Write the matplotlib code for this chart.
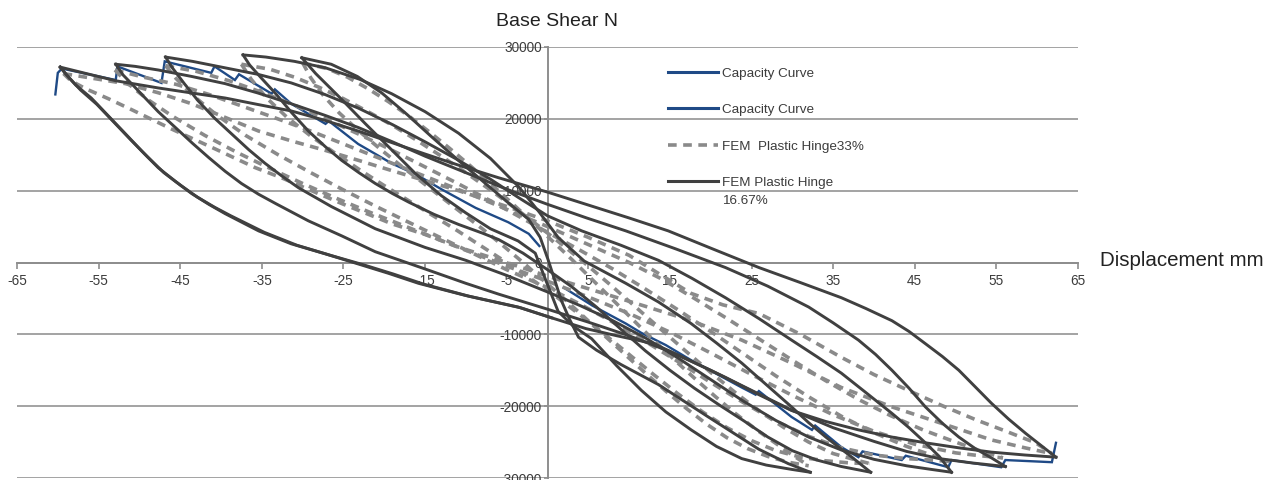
import matplotlib
matplotlib.use("Agg")
import matplotlib.pyplot as plt
from matplotlib.lines import Line2D

# ---------------------------------------------------------------
# Cyclic base shear (N) vs. displacement (mm)
# ---------------------------------------------------------------

x_ticks = [-65, -55, -45, -35, -25, -15, -5, 5, 15, 25, 35, 45, 55, 65]
y_ticks = [-30000, -20000, -10000, 0, 10000, 20000, 30000]

# Capacity curve, negative-displacement side
capacity_neg = [(-60.3, 23400), (-60.0, 26400), (-59.5, 27000), (-52.9, 25400), (-52.7, 27300),
                (-47.3, 25000), (-46.9, 28000), (-41.2, 26400), (-40.8, 27300), (-38.3, 25400),
                (-37.8, 26200), (-33.8, 23500), (-33.4, 24100), (-31.4, 22100), (-27.2, 19300),
                (-26.8, 19700), (-23.2, 16500), (-19.1, 13800), (-16.0, 12200), (-13.0, 10200),
                (-8.8, 7600), (-4.8, 5600), (-2.3, 4000), (-1.0, 2300)]

# Capacity curve, positive-displacement side
capacity_pos = [(2.0, -3500), (5.5, -6000), (9.6, -8500), (11.5, -9800), (14.5, -11500),
                (17.6, -13600), (20.7, -15500), (23.8, -17400), (25.5, -18400), (25.9, -17900),
                (29.9, -21500), (32.4, -23300), (32.8, -22700), (36.0, -25700), (38.1, -27100),
                (38.6, -26300), (43.4, -27500), (43.9, -26900), (49.1, -28500), (49.5, -27500),
                (55.6, -28500), (56.1, -27500), (61.8, -27800), (62.3, -25100)]

# FEM plastic hinge 33% : hysteresis loops (upper and lower branches)
fem33_loop1_upper = [(-59.3, 26300), (-55.5, 25600), (-51.7, 24900), (-47.6, 23600), (-43.6, 22100),
                     (-39.5, 20200), (-35.4, 18300), (-31.3, 16900), (-27.2, 15600), (-23.1, 14200),
                     (-19.1, 12800), (-15.0, 11400), (-10.9, 10000), (-5.0, 7800), (0.0, 5800),
                     (5.0, 3500), (10.0, 1000), (14.0, -1800), (17.6, -4300), (21.5, -5900),
                     (25.9, -7100), (31.0, -10000), (36.0, -13200), (40.0, -15600), (44.2, -17800),
                     (48.3, -19900), (52.5, -21900), (56.2, -23500), (59.8, -25100), (61.8, -26600)]
fem33_loop1_lower = [(-59.3, 26300), (-58.4, 25300), (-56.6, 24200), (-53.8, 22800), (-51.0, 21300),
                     (-46.1, 18600), (-40.7, 15800), (-35.8, 13200), (-32.6, 11800), (-28.1, 9600),
                     (-25.2, 8200), (-19.1, 5400), (-15.0, 3900), (-10.8, 2100), (-5.0, 0),
                     (0.0, -1900), (6.0, -4000), (12.0, -6100), (17.6, -8100), (23.8, -10800),
                     (29.9, -14000), (36.0, -17400), (42.2, -20100), (48.3, -22400), (54.4, -24700),
                     (58.5, -25800), (61.8, -26600)]

fem33_loop2_upper = [(-53.0, 26800), (-49.5, 25800), (-45.5, 24800), (-41.5, 23400), (-37.5, 21800),
                     (-33.3, 20100), (-29.0, 18300), (-25.0, 16500), (-21.0, 14700), (-17.0, 12900),
                     (-13.0, 11100), (-9.0, 9300), (-5.0, 7400), (0.0, 5000), (5.0, 2500),
                     (10.0, 0), (14.0, -2300), (18.0, -5000), (22.0, -7800), (26.0, -10700),
                     (30.0, -13600), (34.0, -16400), (38.0, -19000), (42.0, -21300), (46.0, -23300),
                     (50.0, -25000), (53.0, -26200), (55.8, -27200)]
fem33_loop2_lower = [(-53.0, 26800), (-51.5, 25000), (-49.0, 22700), (-46.0, 20400), (-42.0, 17700),
                     (-38.0, 15300), (-34.0, 13100), (-30.0, 11000), (-26.0, 9000), (-22.0, 7100),
                     (-18.0, 5300), (-14.0, 3500), (-10.0, 1700), (-5.0, -500), (0.0, -2600),
                     (5.0, -4800), (10.0, -7100), (15.0, -9700), (20.0, -12600), (25.0, -15600),
                     (30.0, -18500), (35.0, -21200), (40.0, -23500), (45.0, -25300), (50.0, -26500),
                     (53.0, -26900), (55.8, -27200)]

fem33_loop3_upper = [(-46.8, 27400), (-43.0, 26600), (-39.0, 25300), (-35.0, 23700), (-31.0, 21900),
                     (-27.0, 19900), (-23.0, 17800), (-19.0, 15600), (-15.0, 13300), (-11.0, 11000),
                     (-7.0, 8600), (-3.0, 6100), (0.0, 4200), (4.0, 1700), (8.0, -900),
                     (12.0, -3700), (16.0, -6600), (20.0, -9600), (24.0, -12700), (28.0, -15800),
                     (32.0, -18700), (36.0, -21400), (40.0, -23700), (44.0, -25600), (47.0, -26800),
                     (49.3, -27700)]
fem33_loop3_lower = [(-46.8, 27400), (-45.5, 25600), (-43.5, 23300), (-40.5, 20500), (-37.0, 17700),
                     (-33.0, 15000), (-29.0, 12500), (-25.0, 10100), (-21.0, 7800), (-17.0, 5600),
                     (-13.0, 3400), (-9.0, 1200), (-5.0, -1000), (0.0, -3500), (4.0, -5800),
                     (8.0, -8300), (12.0, -11000), (16.0, -13800), (20.0, -16700), (24.0, -19500),
                     (28.0, -22100), (32.0, -24200), (36.0, -25800), (40.0, -26800), (44.0, -27300),
                     (47.0, -27500), (49.3, -27700)]

fem33_loop4_upper = [(-37.5, 27600), (-34.0, 26900), (-31.0, 25800), (-28.0, 24400), (-25.0, 22800),
                     (-22.0, 21000), (-19.0, 19100), (-16.0, 17000), (-13.0, 14800), (-10.0, 12500),
                     (-7.0, 10100), (-4.0, 7600), (-1.0, 5000), (2.0, 2300), (5.0, -500),
                     (8.0, -3400), (11.0, -6400), (14.0, -9400), (17.0, -12400), (20.0, -15300),
                     (23.0, -18100), (26.0, -20700), (29.0, -23000), (32.0, -25000), (35.0, -26600),
                     (37.5, -27400), (39.5, -28000)]
fem33_loop4_lower = [(-37.5, 27600), (-36.3, 25500), (-34.5, 23000), (-32.0, 20300), (-29.0, 17600),
                     (-26.0, 15200), (-23.0, 12900), (-20.0, 10700), (-17.0, 8600), (-14.0, 6500),
                     (-11.0, 4400), (-8.0, 2200), (-5.0, 0), (-2.0, -2300), (1.0, -4700),
                     (4.0, -7300), (7.0, -10000), (10.0, -12800), (13.0, -15600), (16.0, -18300),
                     (19.0, -20800), (22.0, -23000), (25.0, -24800), (28.0, -26200), (31.0, -27100),
                     (34.0, -27600), (37.0, -27900), (39.5, -28000)]

fem33_loop5_upper = [(-30.0, 27800), (-27.0, 27000), (-24.5, 25800), (-22.0, 24200), (-19.5, 22400),
                     (-17.0, 20400), (-14.5, 18200), (-12.0, 15900), (-9.5, 13500), (-7.0, 11000),
                     (-4.5, 8400), (-2.0, 5800), (0.5, 3100), (3.0, 400), (5.5, -2400),
                     (8.0, -5200), (10.5, -8000), (13.0, -10800), (15.5, -13500), (18.0, -16100),
                     (20.5, -18600), (23.0, -21000), (25.5, -23200), (28.0, -25200), (30.0, -26800),
                     (32.0, -28300)]
fem33_loop5_lower = [(-30.0, 27800), (-29.0, 25700), (-27.5, 23300), (-25.5, 20800), (-23.0, 18200),
                     (-20.5, 15800), (-18.0, 13500), (-15.5, 11300), (-13.0, 9100), (-10.5, 6900),
                     (-8.0, 4700), (-5.5, 2400), (-3.0, 0), (-0.5, -2500), (2.0, -5000),
                     (4.5, -7600), (7.0, -10200), (9.5, -12800), (12.0, -15400), (14.5, -17900),
                     (17.0, -20300), (19.5, -22500), (22.0, -24400), (24.5, -25900), (27.0, -27000),
                     (29.5, -27800), (32.0, -28300)]

# FEM plastic hinge 16.67% : hysteresis loops (upper and lower branches)
fem16_loop1_upper = [(-59.7, 27200), (-56.5, 26300), (-52.9, 25300), (-47.7, 24300), (-43.6, 23600),
                     (-39.5, 22900), (-35.5, 22000), (-31.4, 21100), (-27.3, 19800), (-23.2, 18300),
                     (-19.1, 16700), (-15.0, 15100), (-10.5, 13400), (-6.0, 11800), (0.0, 9800),
                     (5.0, 8000), (10.0, 6200), (14.8, 4400), (20.0, 2000), (25.9, -700),
                     (31.0, -2800), (36.0, -4900), (39.0, -6400), (42.2, -8100), (44.3, -9600),
                     (46.3, -11300), (48.4, -13100), (50.4, -15000), (52.4, -17300), (54.4, -19600),
                     (56.5, -21800), (58.6, -23800), (60.5, -25500), (62.3, -27100)]
fem16_loop1_lower = [(-59.7, 27200), (-59.0, 26200), (-57.8, 24700), (-55.9, 22900), (-53.8, 20400),
                     (-51.7, 17900), (-49.7, 15500), (-47.7, 13200), (-45.6, 11300), (-43.6, 9600),
                     (-41.5, 8100), (-39.5, 6800), (-35.4, 4400), (-31.4, 2600), (-27.2, 1200),
                     (-23.2, -200), (-19.5, -1500), (-15.8, -2900), (-10.0, -4600), (-3.6, -6200),
                     (0.5, -7700), (4.7, -9200), (8.5, -10200), (13.0, -11300), (17.0, -13400),
                     (21.8, -16000), (25.9, -18400), (29.9, -20600), (34.0, -22100), (38.1, -23300),
                     (42.2, -24300), (46.3, -25100), (50.4, -25800), (54.4, -26400), (58.5, -26800),
                     (62.3, -27100)]
fem16_loop1_lower_repeat = [(-59.7, 27200), (-58.6, 25700), (-57.2, 24000), (-55.2, 22000),
                            (-53.1, 19500), (-51.0, 17000), (-49.0, 14700), (-47.0, 12500),
                            (-44.9, 10700), (-42.9, 9100), (-40.8, 7700), (-38.8, 6500),
                            (-34.7, 4200), (-30.7, 2400), (-26.6, 1000), (-22.6, -300),
                            (-18.9, -1600), (-15.2, -3000), (-9.6, -4700), (-3.3, -6300), (0.5, -7700)]

fem16_loop2_upper = [(-52.9, 27600), (-50.5, 27300), (-47.7, 26800), (-43.6, 25900), (-39.5, 24900),
                     (-35.5, 23600), (-31.4, 22100), (-27.3, 20500), (-23.2, 18800), (-19.0, 16800),
                     (-15.0, 14800), (-10.0, 12500), (-5.0, 10200), (0.0, 8100), (4.8, 6200),
                     (9.6, 4400), (15.7, 1900), (21.8, -700), (27.0, -3300), (32.0, -6200),
                     (35.0, -8400), (38.1, -10800), (40.2, -12800), (42.2, -15000), (44.3, -17500),
                     (46.3, -20100), (48.4, -22400), (50.4, -24300), (52.4, -25900), (54.4, -27200),
                     (56.1, -28400)]
fem16_loop2_lower = [(-52.9, 27600), (-52.0, 26100), (-50.8, 24700), (-49.8, 23500), (-47.7, 21000),
                     (-45.6, 18800), (-43.5, 16600), (-41.5, 14600), (-39.5, 12700), (-37.5, 11000),
                     (-35.4, 9500), (-33.3, 8200), (-29.3, 5800), (-25.2, 3700), (-21.1, 1500),
                     (-15.0, -900), (-10.0, -2900), (-6.0, -4400), (0.0, -6500), (5.0, -8300),
                     (10.0, -10200), (15.0, -12400), (20.0, -15000), (25.0, -17800), (30.0, -20600),
                     (35.0, -23000), (40.0, -24900), (44.0, -26300), (48.0, -27300), (52.0, -27900),
                     (56.1, -28400)]

fem16_loop3_upper = [(-46.8, 28600), (-43.5, 28000), (-39.5, 27100), (-35.5, 26200), (-31.4, 25000),
                     (-27.3, 23400), (-23.2, 21500), (-19.0, 19200), (-15.0, 16800), (-11.0, 14300),
                     (-7.0, 11600), (-3.5, 9000), (0.0, 6500), (4.2, 4400), (9.0, 2400),
                     (13.6, 300), (17.7, -2200), (21.8, -4900), (25.9, -7800), (29.9, -10800),
                     (33.0, -13100), (36.0, -15400), (39.0, -18100), (42.2, -21000), (44.3, -23000),
                     (46.3, -25100), (48.0, -27000), (49.5, -29200)]
fem16_loop3_lower = [(-46.8, 28600), (-45.9, 27000), (-44.5, 24900), (-42.8, 22500), (-40.8, 20100),
                     (-38.7, 17900), (-36.6, 15700), (-34.6, 13800), (-32.5, 12000), (-30.5, 10400),
                     (-26.5, 7800), (-21.1, 4700), (-15.0, 2100), (-10.0, 300), (-5.0, -1800),
                     (0.0, -4100), (4.0, -6000), (8.0, -8100), (12.0, -10500), (16.0, -13300),
                     (20.0, -16300), (24.0, -19300), (28.0, -22000), (32.0, -24300), (36.0, -26100),
                     (40.0, -27400), (44.0, -28300), (47.0, -28800), (49.5, -29200)]

fem16_loop4_upper = [(-37.3, 28900), (-34.5, 28600), (-31.0, 28000), (-27.2, 27100), (-23.0, 25500),
                     (-19.1, 23500), (-15.0, 21000), (-10.9, 18000), (-7.0, 14500), (-3.5, 10500),
                     (-1.0, 7000), (1.3, 3500), (4.5, 200), (9.6, -2900), (13.6, -5500),
                     (17.6, -8500), (20.7, -11200), (23.8, -14000), (26.8, -17000), (29.9, -20100),
                     (32.0, -22300), (34.1, -24300), (35.8, -25800), (37.3, -27100), (38.5, -28200),
                     (39.6, -29200)]
fem16_loop4_lower = [(-37.3, 28900), (-36.5, 27500), (-35.0, 25600), (-33.3, 23500), (-31.3, 20800),
                     (-29.3, 18300), (-27.2, 16100), (-25.2, 14200), (-23.1, 12500), (-21.1, 11000),
                     (-19.0, 9600), (-17.0, 8400), (-13.9, 6700), (-10.9, 5300), (-8.0, 4100),
                     (-6.0, 3200), (-3.0, 1300), (0.0, -1000), (3.0, -3400), (6.0, -6200),
                     (9.0, -9300), (12.0, -12300), (15.0, -15000), (18.0, -17500), (21.0, -19800),
                     (24.0, -22000), (27.0, -24300), (30.0, -26200), (33.0, -27500), (36.0, -28400),
                     (39.6, -29200)]

fem16_loop5_upper = [(-30.1, 28500), (-26.5, 27600), (-23.3, 25900), (-20.3, 23600), (-17.2, 20600),
                     (-14.2, 17500), (-10.9, 14200), (-7.6, 11000), (-4.9, 8400), (-2.3, 6000),
                     (-0.9, 3500), (0.1, 300), (0.9, -2500), (1.7, -5300), (2.7, -7900),
                     (3.8, -10400), (6.0, -12200), (9.0, -14200), (13.6, -17000), (19.7, -21500),
                     (25.9, -26000), (29.5, -28000), (32.2, -29200)]
fem16_loop5_lower = [(-30.1, 28500), (-28.4, 26300), (-25.3, 22800), (-22.3, 19300), (-19.2, 15800),
                     (-16.2, 12400), (-13.0, 9300), (-10.0, 6900), (-7.0, 4700), (-3.6, 3000),
                     (-1.5, 1300), (-0.2, -2500), (1.3, -6800), (3.2, -8900), (5.4, -10600),
                     (8.5, -14400), (11.5, -17800), (14.5, -20800), (17.6, -23300), (20.7, -25600),
                     (23.8, -27300), (26.8, -28200), (29.9, -28800), (32.2, -29200)]

capacity_series = [capacity_neg, capacity_pos]
fem33_series = [fem33_loop1_upper, fem33_loop1_lower, fem33_loop2_upper, fem33_loop2_lower,
                fem33_loop3_upper, fem33_loop3_lower, fem33_loop4_upper, fem33_loop4_lower,
                fem33_loop5_upper, fem33_loop5_lower]
fem16_series = [fem16_loop1_upper, fem16_loop1_lower, fem16_loop1_lower_repeat,
                fem16_loop2_upper, fem16_loop2_lower, fem16_loop3_upper, fem16_loop3_lower,
                fem16_loop4_upper, fem16_loop4_lower, fem16_loop5_upper, fem16_loop5_lower]

legend_labels = ["Capacity Curve", "Capacity Curve", "FEM  Plastic Hinge33%", "FEM Plastic Hinge"]

# ---------------------------------------------------------------
BLUE = "#1f4a86"
DASH_GREY = "#8a8a8a"
DARK = "#404040"
GRID = "#a3a3a3"
AXIS = "#8e8e8e"
TICK_TXT = "#3c3c3c"
FONT = ["Liberation Sans", "DejaVu Sans"]


def split(points):
    return [p[0] for p in points], [p[1] for p in points]


fig = plt.figure(figsize=(12.79, 4.80), dpi=100)
ax = fig.add_axes([17 / 1279, 2 / 480, 1061 / 1279, 431 / 480])
ax.set_xlim(-65, 65)
ax.set_ylim(-30000, 30000)

for pts in capacity_series:
    xs, ys = split(pts)
    ax.plot(xs, ys, color=BLUE, lw=1.7, zorder=3, solid_joinstyle="miter")
for pts in fem33_series:
    xs, ys = split(pts)
    ax.plot(xs, ys, color=DASH_GREY, lw=2.6, dashes=(2.4, 1.8), zorder=4)
for pts in fem16_series:
    xs, ys = split(pts)
    ax.plot(xs, ys, color=DARK, lw=2.1, zorder=5)

# axes crossing at the origin, Excel style
for side in ("top", "right"):
    ax.spines[side].set_visible(False)
ax.spines["left"].set_position(("data", 0))
ax.spines["bottom"].set_position(("data", 0))
for side in ("left", "bottom"):
    ax.spines[side].set_color(AXIS)
    ax.spines[side].set_linewidth(1.4)
    ax.spines[side].set_zorder(2)

ax.set_xticks(x_ticks)
ax.set_yticks(y_ticks)
ax.set_xticklabels([str(v) for v in x_ticks])
ax.set_yticklabels([str(v) for v in y_ticks])
ax.tick_params(axis="both", direction="out", width=1.2, color=AXIS,
               labelsize=9.8, labelcolor=TICK_TXT)
ax.tick_params(axis="x", length=4, pad=4)
ax.tick_params(axis="y", length=3, pad=1)
for lab in ax.get_xticklabels() + ax.get_yticklabels():
    lab.set_family(FONT)

ax.grid(axis="y", color=GRID, lw=1.4, zorder=1)
ax.grid(axis="x", visible=False)
ax.set_axisbelow(True)

fig.text(557 / 1279, 1 - 22 / 480, "Base Shear N", ha="center", va="center",
         fontsize=14, color="#222222", family=FONT)
fig.text(1100 / 1279, 1 - 261 / 480, "Displacement mm", ha="left", va="center",
         fontsize=14.8, color="#222222", family=FONT)

handles = [Line2D([], [], color=BLUE, lw=2.2),
           Line2D([], [], color=BLUE, lw=2.2),
           Line2D([], [], color=DASH_GREY, lw=2.6, dashes=(2.4, 1.8)),
           Line2D([], [], color=DARK, lw=2.2)]
leg = ax.legend(handles, legend_labels, loc="upper left", bbox_to_anchor=(0.6136, 0.953),
                frameon=False, borderaxespad=0, borderpad=0, handlelength=3.7,
                handletextpad=0.3, labelspacing=1.78,
                prop={"family": FONT, "size": 9.7})
for t in leg.get_texts():
    t.set_color(TICK_TXT)
fig.text(722 / 1279, 1 - 201 / 480, "16.67%", ha="left", va="center",
         fontsize=9.7, color=TICK_TXT, family=FONT)

fig.savefig("out.png", dpi=100)
